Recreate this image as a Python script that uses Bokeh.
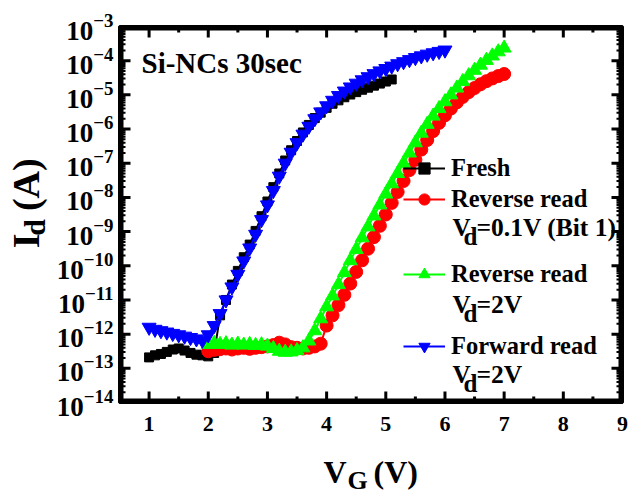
import math
from bokeh.plotting import figure
from bokeh.layouts import row, column
from bokeh.models import (Label, Legend, LegendItem, FixedTicker, Range1d,
                          ColumnDataSource)
from bokeh.core.properties import value
from bokeh.embed import file_html
from bokeh.resources import INLINE

FONT = "Liberation Serif"

# ---------------- data (log10 of drain current in A) ----------------
vg_fresh = [1.0, 1.1, 1.2, 1.3, 1.4, 1.5, 1.6, 1.7, 1.8, 1.9,
            2.0, 2.1, 2.2, 2.3, 2.4, 2.5, 2.6, 2.7, 2.8, 2.9,
            3.0, 3.1, 3.2, 3.3, 3.4, 3.5, 3.6, 3.7, 3.8, 3.9,
            4.0, 4.1, 4.2, 4.3, 4.4, 4.5, 4.6, 4.7, 4.8, 4.9,
            5.0, 5.1]
log_id_fresh = [-12.68, -12.62, -12.58, -12.52, -12.45, -12.42, -12.48, -12.55, -12.60, -12.62,
                -12.65, -12.55, -11.45, -11.00, -10.55, -10.15, -9.75, -9.38, -8.98, -8.55,
                -8.12, -7.70, -7.30, -6.92, -6.62, -6.35, -6.10, -5.88, -5.68, -5.52,
                -5.38, -5.26, -5.16, -5.07, -4.99, -4.92, -4.85, -4.79, -4.73, -4.67,
                -4.61, -4.55]

vg_forward = [1.0, 1.1, 1.2, 1.3, 1.4, 1.5, 1.6, 1.7, 1.8, 1.9,
              2.0, 2.1, 2.2, 2.3, 2.4, 2.5, 2.6, 2.7, 2.8, 2.9,
              3.0, 3.1, 3.2, 3.3, 3.4, 3.5, 3.6, 3.7, 3.8, 3.9,
              4.0, 4.1, 4.2, 4.3, 4.4, 4.5, 4.6, 4.7, 4.8, 4.9,
              5.0, 5.1, 5.2, 5.3, 5.4, 5.5, 5.6, 5.7, 5.8, 5.9,
              6.0]
log_id_forward = [-11.80, -11.86, -11.90, -11.94, -11.98, -12.02, -12.06, -12.10, -12.14, -12.18,
                  -12.02, -11.75, -11.40, -11.00, -10.62, -10.25, -9.86, -9.48, -9.08, -8.65,
                  -8.22, -7.80, -7.38, -7.00, -6.68, -6.40, -6.15, -5.92, -5.70, -5.50,
                  -5.32, -5.16, -5.02, -4.89, -4.77, -4.66, -4.56, -4.47, -4.38, -4.30,
                  -4.23, -4.16, -4.09, -4.03, -3.97, -3.91, -3.86, -3.81, -3.77, -3.73,
                  -3.69]

vg_reverse = [2.0, 2.1, 2.2, 2.3, 2.4, 2.5, 2.6, 2.7, 2.8, 2.9,
              3.0, 3.1, 3.2, 3.3, 3.4, 3.5, 3.6, 3.7, 3.8, 3.9,
              4.0, 4.1, 4.2, 4.3, 4.4, 4.5, 4.6, 4.7, 4.8, 4.9,
              5.0, 5.1, 5.2, 5.3, 5.4, 5.5, 5.6, 5.7, 5.8, 5.9,
              6.0, 6.1, 6.2, 6.3, 6.4, 6.5, 6.6, 6.7, 6.8, 6.9,
              7.0]
log_id_rev_01 = [-12.50, -12.46, -12.44, -12.42, -12.45, -12.42, -12.40, -12.43, -12.40, -12.38,
                 -12.36, -12.32, -12.25, -12.30, -12.38, -12.40, -12.42, -12.40, -12.36, -12.28,
                 -11.75, -11.45, -11.15, -10.85, -10.52, -10.18, -9.84, -9.50, -9.16, -8.83,
                 -8.50, -8.16, -7.84, -7.52, -7.20, -6.90, -6.60, -6.32, -6.06, -5.82,
                 -5.60, -5.40, -5.22, -5.06, -4.92, -4.80, -4.69, -4.60, -4.52, -4.45,
                 -4.39]
log_id_rev_2 = [-12.30, -12.27, -12.30, -12.28, -12.32, -12.29, -12.32, -12.30, -12.33, -12.31,
                -12.35, -12.42, -12.50, -12.53, -12.52, -12.48, -12.40, -12.20, -11.90, -11.55,
                -11.20, -10.88, -10.55, -10.20, -9.85, -9.52, -9.18, -8.86, -8.54, -8.22,
                -7.90, -7.60, -7.30, -7.00, -6.70, -6.40, -6.12, -5.86, -5.62, -5.40,
                -5.20, -5.00, -4.80, -4.61, -4.44, -4.28, -4.13, -3.99, -3.86, -3.74,
                -3.63]

x_ticks = [1, 2, 3, 4, 5, 6, 7, 8, 9]
x_minor = [1.5, 2.5, 3.5, 4.5, 5.5, 6.5, 7.5, 8.5]
y_decades = [-14, -13, -12, -11, -10, -9, -8, -7, -6, -5, -4, -3]

X0, X1 = 0.5, 9.0
Y0, Y1 = 1e-14, 1e-3

# ---------------- main figure ----------------
LEFT_W, BOTTOM_H = 50, 50
MAIN_W, MAIN_H = 631 - LEFT_W, 494 - BOTTOM_H
FRAME_W, FRAME_H = 503, 376

p = figure(width=MAIN_W, height=MAIN_H, x_range=Range1d(X0, X1),
           y_range=Range1d(Y0, Y1), y_axis_type="log",
           output_backend="svg", toolbar_location=None,
           min_border_left=119 - LEFT_W, min_border_right=9,
           min_border_top=26, min_border_bottom=MAIN_H - 402)
p.xgrid.visible = False
p.ygrid.visible = False
p.outline_line_color = "black"
p.outline_line_width = 3

y_major = [10.0 ** e for e in y_decades]
y_minor = [m * 10.0 ** e for e in y_decades[:-1] for m in range(2, 10)]


def style_axis(ax, ticker, label_size, standoff):
    ax.ticker = ticker
    ax.axis_line_width = 3
    ax.axis_line_color = "black"
    ax.major_tick_in = 0
    ax.major_tick_out = 0
    ax.minor_tick_in = 0
    ax.minor_tick_out = 0
    ax.major_label_text_font = FONT
    ax.major_label_text_font_style = "bold"
    ax.major_label_text_color = "black"
    ax.major_label_text_font_size = label_size
    ax.major_label_standoff = standoff


style_axis(p.xaxis[0], FixedTicker(ticks=x_ticks), "22px", 14)
style_axis(p.yaxis[0], FixedTicker(ticks=y_major), "27px", 6)

# frame box and inward tick marks drawn as filled bars (sizes in pixels)
px_per_x = FRAME_W / (X1 - X0)
px_per_dec = FRAME_H / (math.log10(Y1) - math.log10(Y0))


def dx(px):
    return px / px_per_x


def fy(px):
    return 10.0 ** (px / px_per_dec)


def bars(left, right, bottom, top):
    p.quad(left=left, right=right, bottom=bottom, top=top,
           fill_color="black", line_color=None)


# frame edges (4 px)
bars([X0, X1 - dx(4), X0, X0], [X0 + dx(4), X1, X1, X1],
     [Y0, Y0, Y0, Y1 / fy(4)], [Y1, Y1, Y0 * fy(4), Y1])


def x_tick_marks(xs, length, width):
    n = len(xs)
    L = [x - dx(width / 2) for x in xs]
    R = [x + dx(width / 2) for x in xs]
    bars(L, R, [Y0] * n, [Y0 * fy(length)] * n)
    bars(L, R, [Y1 / fy(length)] * n, [Y1] * n)


def y_tick_marks(ys, length, width):
    n = len(ys)
    B = [y / fy(width / 2) for y in ys]
    T = [y * fy(width / 2) for y in ys]
    bars([X0] * n, [X0 + dx(length)] * n, B, T)
    bars([X1 - dx(length)] * n, [X1] * n, B, T)


x_tick_marks(x_ticks, 11, 3)
x_tick_marks(x_minor, 6, 3)
y_tick_marks(y_major, 11, 3)
y_tick_marks(y_minor, 6, 2)

# ---------------- series ----------------
series = [
    ("Fresh", vg_fresh, log_id_fresh, "black", "square", 9),
    ("Reverse read", vg_reverse, log_id_rev_01, "#ff0000", "circle", 13),
    ("Reverse read", vg_reverse, log_id_rev_2, "#00ff00", "triangle", 14),
    ("Forward read", vg_forward, log_id_forward, "#0000ff", "inverted_triangle", 14),
]
rends = []
for name, xs, logs, col, mk, sz in series:
    src = ColumnDataSource(dict(vg=xs, id=[10.0 ** v for v in logs]))
    ln = p.line("vg", "id", source=src, line_color=col, line_width=2)
    sc = p.scatter("vg", "id", source=src, marker=mk, size=sz,
                   fill_color=col, line_color=col)
    rends.append((name, [ln, sc]))

legend_bottoms = [220, 189, 114, 42]
for (name, rr), yb in zip(rends, legend_bottoms):
    lg = Legend(items=[LegendItem(label=name, renderers=rr)],
                location=(284, yb), glyph_width=42, glyph_height=28,
                label_height=28, label_standoff=6, padding=0, margin=0,
                spacing=0, border_line_alpha=0, background_fill_alpha=0,
                label_text_font=FONT, label_text_font_style="bold",
                label_text_font_size="24.5px", label_text_color="black")
    p.add_layout(lg, "center")


def add_label(txt, x, y, size):
    p.add_layout(Label(x=x, y=y, x_units="screen", y_units="screen",
                       text=txt, text_font=FONT, text_font_style="bold",
                       text_font_size=f"{size}px", text_color="black",
                       text_align="left", text_baseline="alphabetic"))


add_label("Si-NCs 30sec", 22, 340, 29)

for yv, rest in [(175, "=0.1V (Bit 1)"), (98, "=2V"), (28, "=2V")]:
    add_label("V", 333, yv, 25)
    add_label("d", 344, yv - 9, 25)
    add_label(rest, 357, yv, 25.5)


# ---------------- axis titles (separate strips, real text) ----------------
def strip(w, h):
    s = figure(width=w, height=h, x_range=Range1d(0, w), y_range=Range1d(0, h),
               output_backend="svg", toolbar_location=None,
               x_axis_location=None, y_axis_location=None,
               min_border_left=0, min_border_right=0,
               min_border_top=0, min_border_bottom=0)
    s.outline_line_color = None
    s.grid.visible = False
    return s


def add_text(fig, txt, x, y, size, angle=0.0):
    fig.text(x=[x], y=[y], text=[txt], angle=angle,
             text_font=value(FONT), text_font_style="bold",
             text_font_size=value(f"{size}px"), text_color="black",
             text_align="left", text_baseline="alphabetic")


left = strip(LEFT_W, MAIN_H)
# data y = MAIN_H - canvas y ; rotated to read bottom-to-top
add_text(left, "I", 25, MAIN_H - 262, 38, math.pi / 2)
add_text(left, "d", 34, MAIN_H - 247, 30, math.pi / 2)
add_text(left, "(A)", 25, MAIN_H - 218, 38, math.pi / 2)

bottom = strip(631, BOTTOM_H)
# data y = 494 - canvas y
add_text(bottom, "V", 323, 23, 32)
add_text(bottom, "G", 347, 14, 26)
add_text(bottom, "(V)", 373, 23, 32)

layout = column(row(left, p, spacing=0), bottom, spacing=0)
open("out.html", "w").write(file_html(layout, INLINE))
